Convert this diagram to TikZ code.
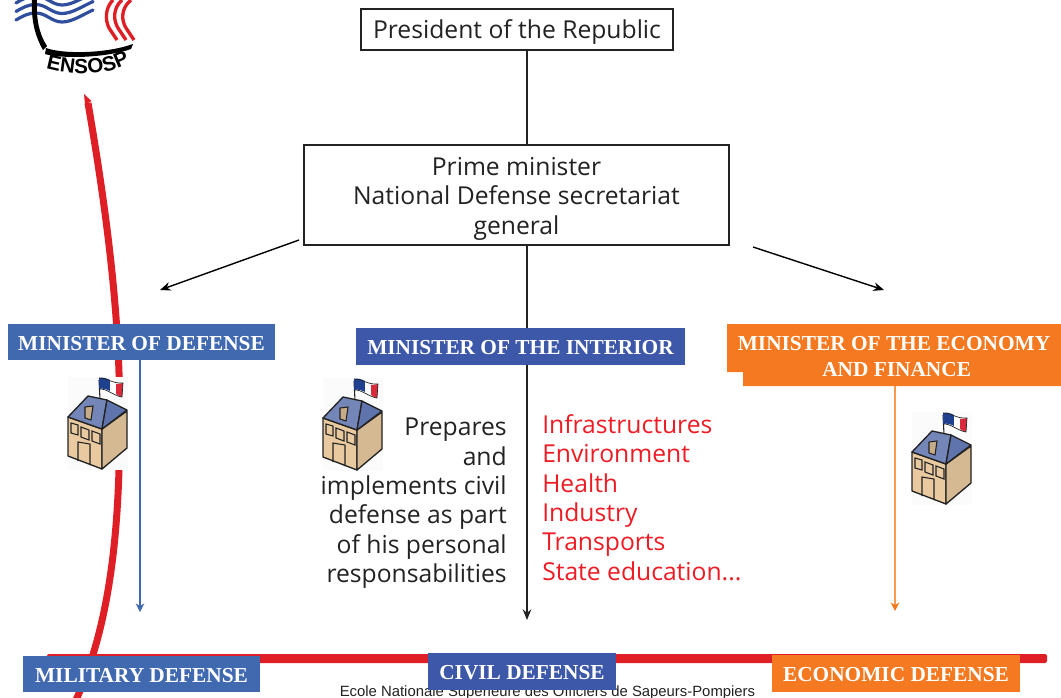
\documentclass[tikz,border=0pt]{standalone}
\usepackage{fontspec}
\setmainfont{Open Sans}
\newfontfamily\labelfont{Liberation Serif}
\newfontfamily\footfont{Liberation Sans}
\usetikzlibrary{arrows.meta,decorations.text}
\definecolor{redline}{HTML}{DF1F26}
\definecolor{redtext}{HTML}{ED1C24}
\definecolor{blueA}{HTML}{4169B0}
\definecolor{blueB}{HTML}{3D58A8}
\definecolor{logoblue}{HTML}{2F4E9E}
\definecolor{orangeA}{HTML}{F47920}
\definecolor{orangeL}{HTML}{F79A50}
\definecolor{wall}{HTML}{E8C9A0}
\definecolor{roofA}{HTML}{7486B8}
\definecolor{roofB}{HTML}{5F74AC}
\definecolor{flagblue}{HTML}{1F3F8F}
\definecolor{flagred}{HTML}{D92A3A}
\definecolor{ink}{HTML}{222222}
\tikzset{
  x=0.75pt,y=-0.75pt,
  wbox/.style={draw=ink,line width=1.1pt,fill=white,inner sep=0pt,align=center,text=ink,font=\fontsize{18.5}{22}\selectfont},
  banner/.style={inner sep=0pt,align=center,text=white,font=\labelfont\bfseries\fontsize{16}{19.2}\selectfont},
  blackarrow/.style={draw=black,line width=1.05pt,-{Stealth[length=8pt,width=6.5pt]}},
  thinarrow/.style={line width=0.8pt,-{Stealth[length=6.5pt,width=6.5pt]}},
  bodytext/.style={inner sep=0pt,text=ink,font=\fontsize{18.5}{22}\selectfont},
  school/.pic={
    \fill[white!97!gray] (0,0) rectangle (60,93);
    \draw[ink,line width=0.8pt] (31,3) -- (32,22);
    \fill[flagblue] (31,1) .. controls (35,0) and (38,1) .. (42,3) -- (42,14) .. controls (38,12) and (35,11) .. (31,12) -- cycle;
    \fill[white] (42,3) .. controls (44,5) and (46,6) .. (48,7) -- (48,17) .. controls (46,16) and (44,15) .. (42,14) -- cycle;
    \fill[flagred] (48,7) .. controls (50,7) and (52,7) .. (55,6) -- (54,20) .. controls (52,20) and (50,18) .. (48,17) -- cycle;
    \draw[ink,line width=0.5pt] (31,1) .. controls (38,0) and (44,7) .. (55,6) -- (54,20) .. controls (46,19) and (38,11) .. (31,12);
    \filldraw[fill=wall,draw=ink,line width=1pt,line join=round] (0,40) -- (34,52) -- (34,92) -- (0,79) -- cycle;
    \filldraw[fill=wall!92!black,draw=ink,line width=1pt,line join=round] (34,52) -- (59,34) -- (59,71) -- (34,92) -- cycle;
    \filldraw[fill=roofA,draw=ink,line width=1pt,line join=round] (0,40) -- (20,19) -- (39,23) -- (34,52) -- cycle;
    \filldraw[fill=roofB,draw=ink,line width=1pt,line join=round] (39,23) -- (59,33) -- (34,52) -- cycle;
    \filldraw[fill=wall!85!black,draw=ink,line width=0.8pt] (17,30) -- (25,29) -- (23,43) -- (17,41) -- cycle;
    \draw[ink,line width=0.8pt] (3,46) -- (10,48) -- (10,58) -- (3,56) -- cycle
      (13,50) -- (21,53) -- (21,63) -- (13,60) -- cycle
      (24,54) -- (32,57) -- (32,67) -- (24,64) -- cycle;
    \draw[ink,line width=0.8pt] (10,84) -- (10,65) -- (22,67) -- (22,88);
  }
}
\begin{document}
\begin{tikzpicture}
\useasboundingbox (0,0) rectangle (1061,697);
\begin{scope}
\clip (0,0) rectangle (1061,697);

% logo
\begin{scope}[logoblue,line width=2.4pt,line cap=round]
  \foreach \d in {0,-8.5,-17}{
    \draw[yshift=\d*-0.75pt] (16,20) .. controls (23,16) and (28,13) .. (36,13) .. controls (46,13) and (52,22) .. (62,22) .. controls (72,22) and (82,15) .. (93,10);
  }
\end{scope}
\fill[black] (32,0) .. controls (31,20) and (35,36) .. (43,50) -- (47,46) .. controls (39,34) and (36,18) .. (37,0) -- cycle;
\fill[black] (46,48) .. controls (62,54) and (105,54) .. (133,44) -- (131,49) .. controls (105,58) and (62,59) .. (45,54) -- cycle;
\begin{scope}[redline,line width=2.5pt]
  \draw (113,0) .. controls (105,8) and (105,20) .. (109,28) -- (117,40);
  \draw (122,0) .. controls (113,8) and (113,20) .. (118,28) -- (126,40);
  \draw (131,0) .. controls (121,8) and (121,20) .. (126,28) -- (134,40);
\end{scope}
\path[decorate,decoration={text along path,text align=center,
  text={|\footfont\bfseries\fontsize{15.5}{15.5}\selectfont|ENSOSP}}]
  (46,68) .. controls (75,76) and (105,76) .. (130,63);

% red sweep
\fill[redline] (84,94) -- (91.5,101) -- (85,105) -- cycle;
\draw[redline,line width=5.25pt] (88,103) .. controls (103,190) and (119,300) .. (119.5,400)
  .. controls (121,520) and (112,620) .. (76,700);
\fill[redline,rounded corners=1.5pt] (47,654) rectangle (1047,663);

% footer
\node[inner sep=0pt,anchor=base,text=ink,font=\footfont\fontsize{11.15}{12}\selectfont] (foot) at (547.5,696) {Ecole Nationale Supérieure des Officiers de Sapeurs-Pompiers};

% connectors behind boxes
\coordinate (spine) at (527,620);
\coordinate (defend) at (140,612);
\coordinate (ecoend) at (895,611);
\coordinate (leftstart) at (299,240);
\coordinate (leftend) at (160,290);
\coordinate (rightstart) at (753,247);
\coordinate (rightend) at (884,290);

% boxes
\node[wbox,minimum width=234pt,minimum height=30.75pt,text height=17.5pt,text depth=4pt] (pres) at (517,29.5) {President of the Republic};
\node[wbox,minimum width=318.75pt,minimum height=75pt] (pm) at (516.5,195) {\rule{0pt}{19pt}Prime minister\\National Defense secretariat\\general};
\draw[draw=ink,line width=1.1pt] (spine |- pres.south) -- (spine |- pm.north);
\draw[blackarrow,draw=ink] (spine |- pm.south) -- (spine);
\draw[blackarrow] (leftstart) -- (leftend);
\draw[blackarrow] (rightstart) -- (rightend);

\node[banner,fill=blueA,minimum width=200.25pt,minimum height=27pt,text height=12.6pt] (mdef) at (141.5,342) {MINISTER OF DEFENSE};
\node[banner,fill=blueB,minimum width=246.75pt,minimum height=27.75pt,text height=12.6pt] (mint) at (520.5,346.5) {MINISTER OF THE INTERIOR};
\fill[orangeA] (727,324) -- (1061,324) -- (1061,386) -- (743,386) -- (743,372) -- (727,372) -- cycle;
\node[banner,minimum width=250.5pt,minimum height=46.5pt] (meco) at (894,355) {\rule{0pt}{13pt}MINISTER OF THE ECONOMY\\\hspace*{4pt}AND FINANCE};

\draw[thinarrow,blueA] (defend |- mdef.south) -- (defend);
\draw[line width=0.8pt,orangeL,-{Stealth[length=6.5pt,width=6.5pt,color=orangeA]}] (ecoend |- meco.south) -- (ecoend);

\pic at (68,377) {school};
\pic at (323,378) {school};
\pic at (912,412) {school};

\node[bodytext,anchor=north east,align=right] (prep) at (507,418) {Prepares\\and\\implements civil\\defense as part\\of his personal\\responsabilities};
\node[bodytext,anchor=north west,align=left,text=redtext] (list) at (542,414.5) {Infrastructures\\Environment\\Health\\Industry\\Transports\\State education...};

\node[banner,fill=blueA,minimum width=177.75pt,minimum height=27pt,text height=12.6pt] (bmil) at (141.5,674) {MILITARY DEFENSE};
\node[banner,fill=blueB,minimum width=141pt,minimum height=27.75pt,text height=12.6pt] (bciv) at (522,671.5) {CIVIL DEFENSE};
\node[banner,fill=orangeA,minimum width=186pt,minimum height=27.75pt,text height=12.6pt] (beco) at (896,673.5) {ECONOMIC DEFENSE};
\end{scope}
\end{tikzpicture}
\end{document}
